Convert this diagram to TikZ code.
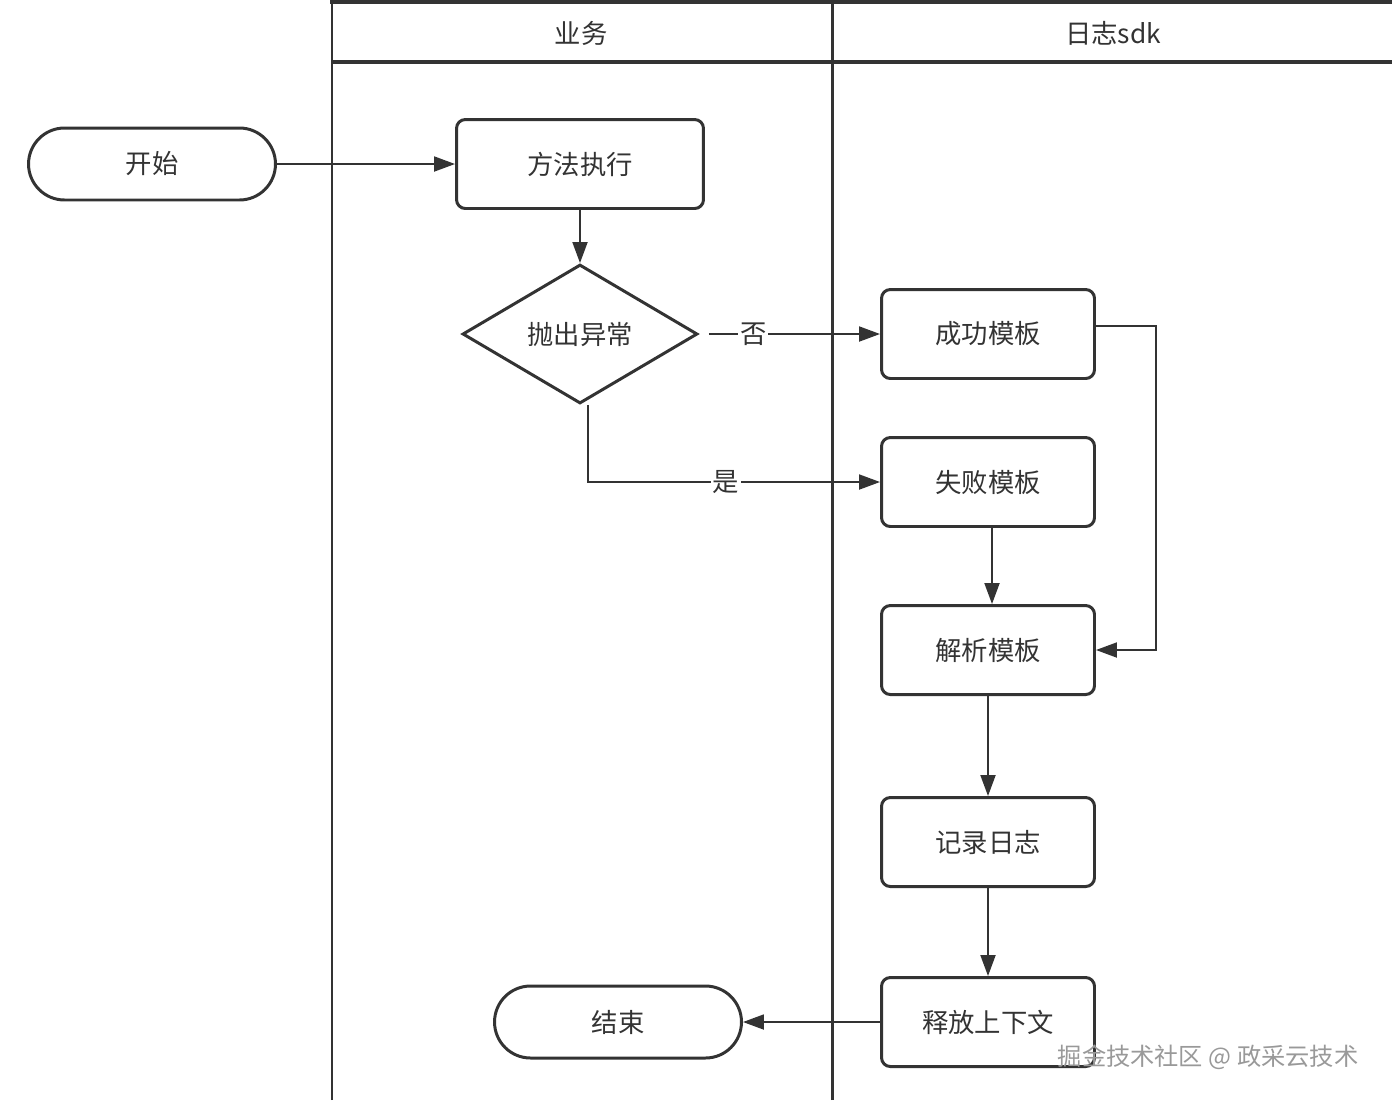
\documentclass[tikz,border=0pt]{standalone}
\usepackage{fontspec}
\setmainfont{Noto Sans CJK SC}
\usepackage{tikz}
\usetikzlibrary{shapes.geometric}
\usetikzlibrary{arrows.meta}
\definecolor{ink}{HTML}{333333}
\tikzset{ step_box/.style = {rectangle, rounded corners=5pt, draw=ink, line width=1.7pt, minimum width=4.26cm, minimum height=1.78cm, align=center} }
\tikzset{ term_box/.style = {rectangle, rounded corners=0.72cm, draw=ink, line width=1.7pt, minimum width=4.94cm, minimum height=1.44cm} }
\tikzset{ cond_box/.style = {diamond, draw=ink, line width=1.7pt, minimum width=4.7cm, minimum height=2.78cm, inner sep=0pt} }
\tikzset{ flow/.style = {draw=ink, line width=1.1pt, -{Triangle[length=0.42cm, width=0.3cm]}} }
\tikzset{ lane/.style = {draw=ink, line width=1.7pt} }

\begin{document}
\begin{tikzpicture}[x=0.02cm, y=-0.02cm, every node/.style={font=\fontsize{15}{18}\selectfont, text=ink}]
    \useasboundingbox (0,0) rectangle (1392,1100);
    % lanes
    \draw[lane] (332,1100) -- (332,1);
    \draw[lane] (832,1100) -- (832,1);
    \draw[lane, line width=2.3pt] (330,2) -- (1392,2);
    \draw[lane, line width=2.3pt] (332,62) -- (1392,62);
    \node (biz) at (581,33) {业务};
    \node (sdk) at (1113,33) {日志sdk};
    % nodes
    \node [style=term_box] (start) at (152,164) {开始};
    \node [style=step_box, minimum width=4.94cm] (run) at (580,164) {方法执行};
    \node [style=cond_box] (throw) at (580,334) {抛出异常};
    \node [style=step_box] (succ) at (988,334) {成功模板};
    \node [style=step_box] (fail) at (988,482) {失败模板};
    \node [style=step_box] (parse) at (988,650) {解析模板};
    \node [style=step_box] (log) at (988,842) {记录日志};
    \node [style=step_box] (free) at (988,1022) {释放上下文};
    \node [style=term_box] (stop) at (618,1022) {结束};
    \coordinate (bend) at (1156,326);
    % edges
    \draw[flow] (start) to (run);
    \draw[flow] (run) to (throw);
    \draw[flow, shorten <=0.2cm] (throw.east) -- node[pos=0.3, fill=white, inner sep=1pt] {否} (succ.west);
    \draw[flow] ([xshift=0.16cm]throw.south) |- node[pos=0.736, fill=white, inner sep=1pt] {是} (fail.west);
    \draw[flow] (succ.east |- bend) -- (bend) |- (parse.east);
    \draw[flow] ([xshift=0.08cm]fail.south) to ([xshift=0.08cm]parse.north);
    \draw[flow] (parse) to (log);
    \draw[flow] (log) to (free);
    \draw[flow] (free) to (stop);
    \node[text=gray!80, font=\fontsize{13.8}{16}\selectfont] (mark) at (1208,1057) {掘金技术社区 @ 政采云技术};
\end{tikzpicture}
\end{document}
